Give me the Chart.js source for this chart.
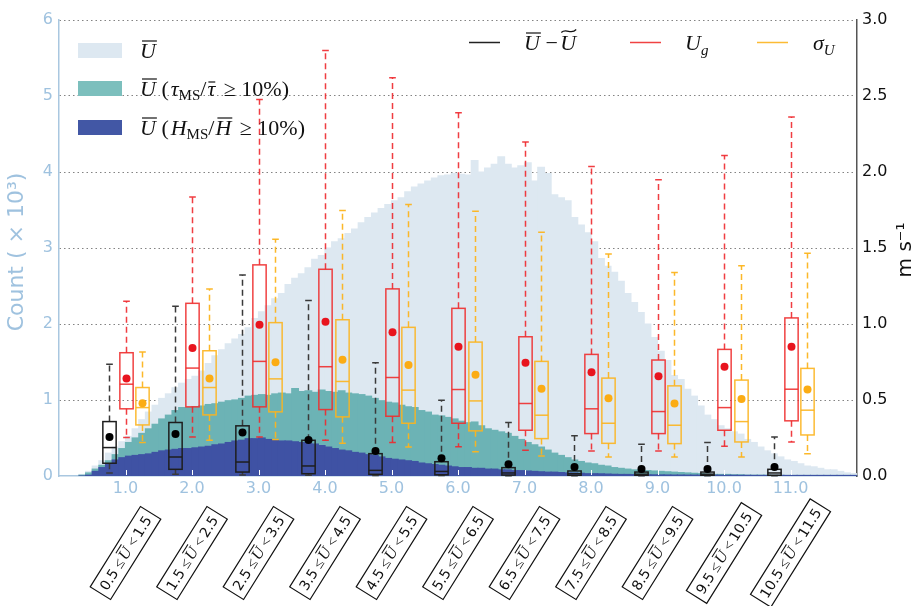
<!DOCTYPE html>
<html>
<head>
<meta charset="utf-8">
<script src="https://cdn.jsdelivr.net/npm/chart.js@4.4.0/dist/chart.umd.min.js"></script>
<style>
  html, body { margin: 0; padding: 0; background: #fff; }
  #wrap { width: 918px; height: 606px; position: relative; }
</style>
</head>
<body>
<div id="wrap"><canvas id="myChart"></canvas></div>
<script>
// histogram bins are 0.1 wide, the first one starts at 0.3 (counts in thousands)
var binStart = 0.3;
var binWidth = 0.1;

var countAll = [
  0.02, 0.06, 0.13, 0.20, 0.30, 0.38, 0.45,
  0.52, 0.62, 0.74, 0.84, 0.93, 1.02, 1.08, 1.16, 1.22, 1.27,
  1.31, 1.38, 1.48, 1.58, 1.66, 1.74, 1.80, 1.86, 1.95, 2.07,
  2.16, 2.24, 2.33, 2.40, 2.52, 2.60, 2.66, 2.74, 2.85, 2.90,
  3.00, 3.08, 3.12, 3.19, 3.25, 3.33, 3.40, 3.46, 3.52, 3.57,
  3.62, 3.66, 3.74, 3.80, 3.84, 3.88, 3.92, 3.95, 3.96, 3.98,
  3.97, 3.96, 4.15, 4.00, 4.05, 4.10, 4.20, 4.10, 4.05, 4.08,
  4.12, 3.88, 4.06, 3.98, 3.70, 3.66, 3.62, 3.40, 3.30, 3.20,
  3.08, 2.86, 2.76, 2.68, 2.56, 2.40, 2.28, 2.15, 2.00, 1.82,
  1.64, 1.52, 1.32, 1.27, 1.14, 1.05, 0.92, 0.80, 0.74, 0.66,
  0.62, 0.58, 0.55, 0.48, 0.44, 0.38, 0.33, 0.29, 0.25, 0.21,
  0.19, 0.16, 0.13, 0.12, 0.10, 0.08, 0.08, 0.06, 0.04, 0.03
];
var countTau = [
  0.01, 0.04, 0.09, 0.14, 0.20, 0.28, 0.36,
  0.44, 0.50, 0.56, 0.62, 0.68, 0.75, 0.80, 0.86, 0.90, 0.90,
  0.91, 0.92, 0.94, 0.95, 0.97, 0.99, 1.00, 1.02, 1.05, 1.06,
  1.07, 1.06, 1.08, 1.09, 1.08, 1.15, 1.11, 1.12, 1.10, 1.13,
  1.11, 1.10, 1.12, 1.09, 1.08, 1.07, 1.05, 1.02, 0.99, 0.97,
  0.96, 0.93, 0.91, 0.90, 0.86, 0.84, 0.80, 0.79, 0.77, 0.75,
  0.72, 0.70, 0.71, 0.66, 0.62, 0.60, 0.58, 0.56, 0.52, 0.48,
  0.44, 0.41, 0.38, 0.34, 0.30, 0.27, 0.24, 0.21, 0.19, 0.17,
  0.16, 0.14, 0.13, 0.11, 0.10, 0.09, 0.08, 0.075, 0.07, 0.065,
  0.06, 0.055, 0.05, 0.045, 0.04, 0.035, 0.03, 0.025, 0.02, 0.02,
  0.02, 0.015, 0.015, 0.01, 0.01, 0.01, 0.01, 0.008, 0.008, 0.006,
  0.006, 0.005, 0.005, 0.004, 0.004, 0.003, 0.003, 0.002, 0.002, 0.001
];
var countH = [
  0.0, 0.01, 0.06, 0.11, 0.16, 0.21, 0.24,
  0.26, 0.27, 0.28, 0.29, 0.31, 0.33, 0.34, 0.35, 0.36, 0.36,
  0.37, 0.38, 0.39, 0.41, 0.42, 0.44, 0.46, 0.47, 0.49, 0.49,
  0.50, 0.48, 0.47, 0.46, 0.46, 0.45, 0.44, 0.43, 0.42, 0.40,
  0.38, 0.36, 0.34, 0.33, 0.31, 0.30, 0.28, 0.27, 0.25, 0.23,
  0.22, 0.21, 0.20, 0.19, 0.17, 0.16, 0.15, 0.14, 0.13, 0.12,
  0.11, 0.11, 0.10, 0.10, 0.09, 0.09, 0.08, 0.08, 0.07, 0.07,
  0.065, 0.06, 0.055, 0.05, 0.05, 0.045, 0.04, 0.04, 0.035, 0.03,
  0.03, 0.028, 0.025, 0.022, 0.02, 0.02, 0.018, 0.016, 0.015, 0.015,
  0.014, 0.013, 0.012, 0.012, 0.011, 0.011, 0.01, 0.01, 0.01, 0.01,
  0.009, 0.009, 0.008, 0.008, 0.007, 0.007, 0.006, 0.006, 0.005, 0.005,
  0.005, 0.004, 0.004, 0.004, 0.003, 0.003, 0.003, 0.002, 0.002, 0.002
];

// box plot groups (m s-1)
var groupX = [1, 2, 3, 4, 5, 6, 7, 8, 9, 10, 11];
var xTickLabels = ["1.0", "2.0", "3.0", "4.0", "5.0", "6.0", "7.0", "8.0", "9.0", "10.0", "11.0"];
var binLo = ["0.5", "1.5", "2.5", "3.5", "4.5", "5.5", "6.5", "7.5", "8.5", "9.5", "10.5"];
var binHi = ["1.5", "2.5", "3.5", "4.5", "5.5", "6.5", "7.5", "8.5", "9.5", "10.5", "11.5"];

// U bar - U tilde
var diffLo   = [0.02, 0.011, 0.007, 0.005, 0.004, 0.003, 0.002, 0.002, 0.002, 0.002, 0.002];
var diffQ1   = [0.084, 0.044, 0.026, 0.015, 0.011, 0.008, 0.006, 0.005, 0.005, 0.005, 0.005];
var diffMed  = [0.187, 0.125, 0.092, 0.066, 0.037, 0.03, 0.02, 0.015, 0.012, 0.012, 0.02];
var diffQ3   = [0.358, 0.352, 0.330, 0.235, 0.147, 0.094, 0.055, 0.033, 0.026, 0.026, 0.044];
var diffHi   = [0.736, 1.116, 1.323, 1.154, 0.745, 0.499, 0.352, 0.264, 0.209, 0.220, 0.257];
var diffMean = [0.257, 0.277, 0.286, 0.237, 0.165, 0.117, 0.077, 0.059, 0.046, 0.046, 0.059];

// U_g
var ugLo   = [0.253, 0.257, 0.257, 0.235, 0.220, 0.193, 0.169, 0.165, 0.165, 0.196, 0.224];
var ugQ1   = [0.442, 0.455, 0.455, 0.437, 0.393, 0.347, 0.301, 0.279, 0.279, 0.301, 0.363];
var ugMed  = [0.604, 0.710, 0.754, 0.719, 0.648, 0.569, 0.477, 0.442, 0.424, 0.450, 0.571];
var ugQ3   = [0.811, 1.136, 1.389, 1.360, 1.231, 1.103, 0.916, 0.800, 0.763, 0.833, 1.040];
var ugHi   = [1.149, 1.835, 2.477, 2.800, 2.620, 2.390, 2.197, 2.037, 1.949, 2.109, 2.362];
var ugMean = [0.642, 0.842, 0.995, 1.015, 0.945, 0.850, 0.745, 0.683, 0.657, 0.719, 0.850];

// sigma_U
var sigLo   = [0.220, 0.235, 0.240, 0.215, 0.191, 0.160, 0.132, 0.125, 0.125, 0.125, 0.147];
var sigQ1   = [0.336, 0.402, 0.422, 0.389, 0.347, 0.297, 0.246, 0.215, 0.213, 0.224, 0.270];
var sigMed  = [0.450, 0.582, 0.639, 0.622, 0.565, 0.494, 0.400, 0.347, 0.334, 0.358, 0.433];
var sigQ3   = [0.582, 0.824, 1.009, 1.028, 0.978, 0.881, 0.754, 0.644, 0.593, 0.631, 0.708];
var sigHi   = [0.815, 1.231, 1.558, 1.747, 1.786, 1.742, 1.604, 1.461, 1.338, 1.384, 1.466];
var sigMean = [0.479, 0.642, 0.749, 0.765, 0.730, 0.666, 0.574, 0.512, 0.477, 0.506, 0.569];

var lightBlue = "#9fc2df";
var serifI = 'italic 22px "Liberation Serif"';
var serifR = '22px "Liberation Serif"';
var subI = 'italic 15px "Liberation Serif"';
var subR = '15px "Liberation Serif"';

var boxSeries = [
  { offset: -0.25, lo: diffLo, q1: diffQ1, med: diffMed, q3: diffQ3, hi: diffHi, mean: diffMean,
    edge: "#1e1e1e", whisker: "#3a3a3a", dot: "#000" },
  { offset: 0, lo: ugLo, q1: ugQ1, med: ugMed, q3: ugQ3, hi: ugHi, mean: ugMean,
    edge: "rgba(238,45,45,0.9)", whisker: "rgba(238,40,45,0.9)", dot: "#e8141e" },
  { offset: 0.25, lo: sigLo, q1: sigQ1, med: sigMed, q3: sigQ3, hi: sigHi, mean: sigMean,
    edge: "rgba(252,180,30,0.9)", whisker: "rgba(252,180,30,0.95)", dot: "#fbac14" }
];

function histData(vals) {
  return vals.map(function (v, i) {
    return { x: binStart + binWidth * (i + 0.5), y: v };
  });
}

// draws a row of text pieces (math-like), returns width
function drawMath(ctx, pieces, x, y, dry) {
  var cx = x;
  pieces.forEach(function (p) {
    ctx.font = p.f;
    var w = ctx.measureText(p.t).width;
    var by = y + (p.dy || 0);
    if (!dry) {
      ctx.fillText(p.t, cx, by);
      if (p.over) {
        var top = by - p.h;
        var x0 = cx + (p.ox || 0), x1 = cx + w + (p.ox || 0) - 1;
        ctx.save();
        ctx.lineWidth = p.lw || 1.2;
        ctx.strokeStyle = ctx.fillStyle;
        ctx.beginPath();
        if (p.over === "bar") {
          ctx.moveTo(x0, top);
          ctx.lineTo(x1, top);
        } else {
          ctx.moveTo(x0, top + 1.5);
          ctx.bezierCurveTo(x0 + (x1 - x0) * 0.35, top - 3.5, x0 + (x1 - x0) * 0.65, top + 4.5, x1, top - 1.5);
        }
        ctx.stroke();
        ctx.restore();
      }
    }
    cx += w + (p.sp || 0);
  });
  return cx - x;
}

var boxPlugin = {
  id: "boxPlots",
  afterDatasetsDraw: function (chart) {
    var ctx = chart.ctx;
    var xs = chart.scales.x, ys = chart.scales.y2;
    var unit = xs.getPixelForValue(1) - xs.getPixelForValue(0);
    var half = 0.1 * unit, capHalf = 0.05 * unit;
    ctx.save();
    ctx.lineWidth = 1.5;
    boxSeries.forEach(function (s) {
      groupX.forEach(function (g, i) {
        var cx = Math.round(xs.getPixelForValue(g + s.offset)) + 0.5;
        var pLo = ys.getPixelForValue(s.lo[i]);
        var pQ1 = ys.getPixelForValue(s.q1[i]);
        var pMed = ys.getPixelForValue(s.med[i]);
        var pQ3 = ys.getPixelForValue(s.q3[i]);
        var pHi = ys.getPixelForValue(s.hi[i]);
        var pMean = ys.getPixelForValue(s.mean[i]);
        ctx.strokeStyle = s.whisker;
        ctx.setLineDash([6, 4]);
        ctx.beginPath();
        ctx.moveTo(cx, pQ3); ctx.lineTo(cx, pHi);
        ctx.moveTo(cx, pQ1); ctx.lineTo(cx, pLo);
        ctx.stroke();
        ctx.setLineDash([]);
        ctx.beginPath();
        ctx.moveTo(cx - capHalf, pHi); ctx.lineTo(cx + capHalf, pHi);
        ctx.moveTo(cx - capHalf, pLo); ctx.lineTo(cx + capHalf, pLo);
        ctx.stroke();
        ctx.strokeStyle = s.edge;
        ctx.strokeRect(cx - half, pQ3, 2 * half, pQ1 - pQ3);
        ctx.beginPath();
        ctx.moveTo(cx - half, pMed); ctx.lineTo(cx + half, pMed);
        ctx.stroke();
        ctx.fillStyle = s.dot;
        ctx.beginPath();
        ctx.arc(cx, pMean, 4, 0, 2 * Math.PI);
        ctx.fill();
      });
    });
    ctx.restore();
  },
  afterDraw: function (chart) {
    var ctx = chart.ctx;
    var xs = chart.scales.x;
    var area = chart.chartArea;
    ctx.save();

    // little white ticks inside the bottom axis
    ctx.strokeStyle = "#ffffff";
    ctx.lineWidth = 1;
    groupX.forEach(function (g) {
      var px = Math.round(xs.getPixelForValue(g)) + 0.5;
      ctx.beginPath();
      ctx.moveTo(px, area.bottom - 1);
      ctx.lineTo(px, area.bottom - 6);
      ctx.stroke();
    });

    // legend, histograms
    var patches = [
      { c: "#dde8f1", y: 43, pieces: [{ t: "U", f: serifI, over: "bar", h: 17, ox: 2 }] },
      { c: "#7cbfbd", y: 81, pieces: [
        { t: "U", f: serifI, over: "bar", h: 17, ox: 2 }, { t: " (", f: serifR, sp: 2 },
        { t: "τ", f: serifI }, { t: "MS", f: subR, dy: 4 }, { t: "/", f: serifR, sp: 1 },
        { t: "τ", f: serifI, over: "bar", h: 14, ox: 1, sp: 3 }, { t: " ≥ ", f: serifR },
        { t: "10%)", f: serifR }] },
      { c: "#4257a5", y: 120, pieces: [
        { t: "U", f: serifI, over: "bar", h: 17, ox: 2 }, { t: " (", f: serifR, sp: 2 },
        { t: "H", f: serifI }, { t: "MS", f: subR, dy: 4 }, { t: "/", f: serifR, sp: 1 },
        { t: "H", f: serifI, over: "bar", h: 17, ox: 2, sp: 3 }, { t: " ≥ ", f: serifR },
        { t: "10%)", f: serifR }] }
    ];
    ctx.textBaseline = "alphabetic";
    ctx.textAlign = "left";
    patches.forEach(function (p) {
      ctx.fillStyle = p.c;
      ctx.fillRect(78, p.y, 44, 15);
      ctx.fillStyle = "#111";
      drawMath(ctx, p.pieces, 140, p.y + 15, false);
    });

    // legend, box plots
    var lineKeys = [
      { c: "#222", x: 469, tx: 524, pieces: [
        { t: "U", f: serifI, over: "bar", h: 17, ox: 2 }, { t: " − ", f: serifR, sp: -3 },
        { t: "U", f: serifI, over: "tilde", h: 19, ox: 1 }] },
      { c: "rgba(238,45,45,0.9)", x: 630, tx: 685, pieces: [
        { t: "U", f: serifI }, { t: "g", f: subI, dy: 5 }] },
      { c: "rgba(252,180,30,0.9)", x: 757, tx: 813, pieces: [
        { t: "σ", f: serifI }, { t: "U", f: subI, dy: 5 }] }
    ];
    lineKeys.forEach(function (k) {
      ctx.strokeStyle = k.c;
      ctx.lineWidth = 1.5;
      ctx.beginPath();
      ctx.moveTo(k.x, 42.5);
      ctx.lineTo(k.x + 31, 42.5);
      ctx.stroke();
      ctx.fillStyle = "#111";
      drawMath(ctx, k.pieces, k.tx, 50, false);
    });

    // rotated bin labels under the axis
    var numF = '14px "DejaVu Sans"';
    var relF = '15px "Liberation Serif"';
    var uF = 'italic 16px "Liberation Serif"';
    groupX.forEach(function (g, i) {
      var pieces = [
        { t: binLo[i], f: numF }, { t: " ≤ ", f: relF, sp: -2 },
        { t: "U", f: uF, over: "bar", h: 13, ox: 1, lw: 1 }, { t: " < ", f: relF, sp: -1 },
        { t: binHi[i], f: numF }];
      var w = drawMath(ctx, pieces, 0, 0, true);
      ctx.save();
      ctx.translate(xs.getPixelForValue(g), 553);
      ctx.rotate(-58 * Math.PI / 180);
      ctx.fillStyle = "#fff";
      ctx.fillRect(-w / 2 - 5, -12, w + 10, 24);
      ctx.strokeStyle = "#111";
      ctx.lineWidth = 1.2;
      ctx.strokeRect(-w / 2 - 5, -12, w + 10, 24);
      ctx.fillStyle = "#111";
      drawMath(ctx, pieces, -w / 2, 5, false);
      ctx.restore();
    });

    // axis titles
    ctx.save();
    ctx.translate(16, 252);
    ctx.rotate(-Math.PI / 2);
    ctx.fillStyle = lightBlue;
    ctx.textAlign = "center";
    ctx.font = '22px "DejaVu Sans"';
    ctx.fillText("Count ( × 10³)", 0, 7);
    ctx.restore();

    ctx.save();
    ctx.translate(905, 250);
    ctx.rotate(-Math.PI / 2);
    ctx.fillStyle = "#111";
    ctx.textAlign = "center";
    ctx.font = '20px "DejaVu Sans"';
    ctx.fillText("m s⁻¹", 0, 6);
    ctx.restore();

    ctx.restore();
  }
};

new Chart("myChart", {
  type: "bar",
  data: {
    datasets: [
      { label: "all", data: histData(countAll), backgroundColor: "#dde8f1", yAxisID: "y", order: 3,
        grouped: false, barPercentage: 1, categoryPercentage: 1, borderWidth: 0, inflateAmount: 0.6 },
      { label: "tau", data: histData(countTau), backgroundColor: "#6cb3b5", yAxisID: "y", order: 2,
        grouped: false, barPercentage: 1, categoryPercentage: 1, borderWidth: 0, inflateAmount: 0.6 },
      { label: "H", data: histData(countH), backgroundColor: "#3f52a4", yAxisID: "y", order: 1,
        grouped: false, barPercentage: 1, categoryPercentage: 1, borderWidth: 0, inflateAmount: 0.6 }
    ]
  },
  options: {
    responsive: true,
    maintainAspectRatio: false,
    animation: false,
    layout: { padding: { top: 20, left: 0, right: 0, bottom: 0 } },
    plugins: { legend: { display: false }, tooltip: { enabled: false } },
    scales: {
      x: {
        type: "linear", min: 0, max: 12, offset: false,
        afterFit: function (s) { s.height = 130; },
        grid: { drawOnChartArea: false, drawTicks: false, offset: false },
        border: { color: "#a9c7e0", width: 1.5 },
        ticks: {
          stepSize: 1, autoSkip: false, maxRotation: 0, padding: 3, color: lightBlue,
          font: { family: "DejaVu Sans", size: 16 },
          callback: function (v) { var k = groupX.indexOf(v); return k >= 0 ? xTickLabels[k] : ""; }
        }
      },
      y: {
        position: "left", min: 0, max: 6, z: 1,
        afterFit: function (s) { s.width = 59; },
        grid: {
          drawTicks: false, lineWidth: 1,
          color: function (c) { return c.tick && c.tick.value === 0 ? "rgba(0,0,0,0)" : "rgba(90,90,90,0.75)"; }
        },
        border: { color: "#a9c7e0", width: 1.5, dash: [1.5, 3] },
        ticks: { stepSize: 1, padding: 6, color: lightBlue, font: { family: "DejaVu Sans", size: 16 } }
      },
      y2: {
        position: "right", min: 0, max: 3,
        afterFit: function (s) { s.width = 61; },
        grid: { drawOnChartArea: false, drawTicks: false },
        border: { color: "#555", width: 1.5 },
        ticks: {
          stepSize: 0.5, padding: 5, color: "#111", font: { family: "DejaVu Sans", size: 16 },
          callback: function (v) { return v.toFixed(1); }
        }
      }
    }
  },
  plugins: [boxPlugin]
});
</script>
</body>
</html>
